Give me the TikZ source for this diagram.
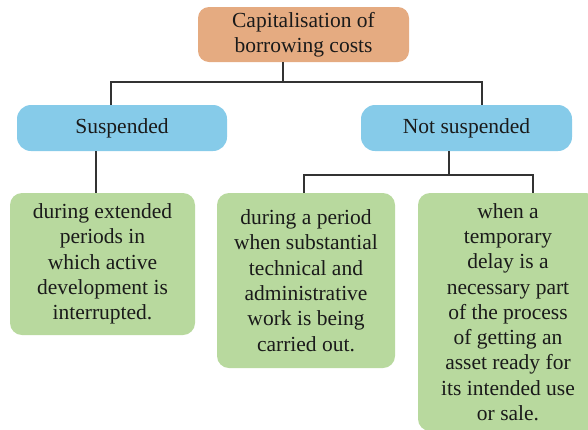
\documentclass[tikz,border=0pt]{standalone}
\usepackage{fontspec}
\newfontfamily\boxfont{Liberation Serif}
\definecolor{orangebox}{HTML}{E5AB81}
\definecolor{bluebox}{HTML}{86CBE9}
\definecolor{greenbox}{HTML}{B8D99E}
\definecolor{linecol}{HTML}{333333}
\definecolor{textcol}{HTML}{1A1A1A}
\begin{document}
\begin{tikzpicture}[x=1pt,y=-1pt,
  box/.style={rectangle, align=center, inner sep=0pt, text=textcol,
    font=\boxfont\fontsize{21.5}{25.3}\selectfont},
  topbox/.style={box, fill=orangebox, rounded corners=11pt, minimum width=211pt, minimum height=55pt},
  midbox/.style={box, fill=bluebox, rounded corners=14pt, minimum width=210pt, minimum height=46pt},
  leafbox/.style={box, fill=greenbox, rounded corners=12pt},
  conn/.style={draw=linecol, line width=1.3pt}]
\useasboundingbox (0,0) rectangle (588,429);
\clip (0,0) rectangle (588,429);

\node[topbox] (top) at (303.5,34.5) {Capitalisation of\\borrowing costs};
\node[midbox] (susp) at (122,128) {Suspended};
\node[midbox, minimum width=211pt] (nsusp) at (466.5,128) {Not suspended};

\node[leafbox, minimum width=185pt, minimum height=142pt] (g1) at (102.5,264)
  {during extended\\periods in\\which active\\development is\\interrupted.};
\node[leafbox, minimum width=178pt, minimum height=175pt] (g2) at (306,280.5)
  {during a period\\when substantial\\technical and\\administrative\\work is being\\carried out.};
\node[leafbox, minimum width=180pt, minimum height=238pt] (g3) at (508,312)
  {when a\\temporary\\delay is a\\necessary part\\of the process\\of getting an\\asset ready for\\its intended use\\or sale.};

\coordinate (jT) at (283,82);
\coordinate (jL) at (111,82);
\coordinate (jR) at (482,82);
\coordinate (s1) at (96,175);
\coordinate (jN) at (449,175);
\coordinate (jA) at (304,175);
\coordinate (jB) at (533,175);

\draw[conn] (top.south -| jT) -- (jT);
\draw[conn] (susp.north -| jL) -- (jL) -- (jR) -- (nsusp.north -| jR);
\draw[conn] (susp.south -| s1) -- (g1.north -| s1);
\draw[conn] (nsusp.south -| jN) -- (jN);
\draw[conn] (g2.north -| jA) -- (jA) -- (jB) -- (g3.north -| jB);
\end{tikzpicture}
\end{document}
